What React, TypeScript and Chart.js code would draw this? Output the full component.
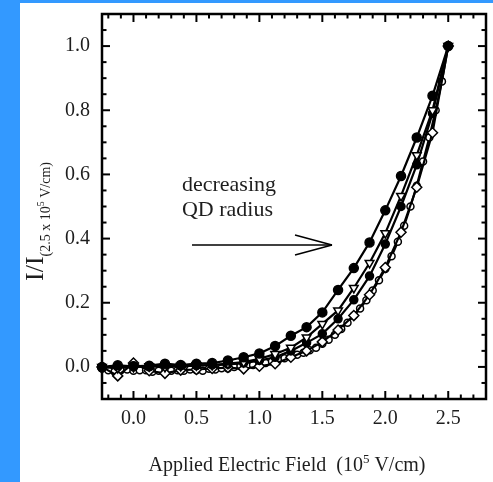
import React, { useEffect, useRef } from "react";
import { Chart, registerables } from "chart.js";
Chart.register(...registerables);

// ---------- data ----------
const xCoarse = [-0.25, -0.125, 0, 0.125, 0.25, 0.375, 0.5, 0.625, 0.75, 0.875, 1.0, 1.125, 1.25, 1.375, 1.5, 1.625, 1.75, 1.875, 2.0, 2.125, 2.25, 2.375, 2.5];
const seriesFilledA = [0.0, 0.005, 0.002, 0.004, 0.01, 0.006, 0.01, 0.012, 0.02, 0.03, 0.042, 0.065, 0.097, 0.124, 0.17, 0.24, 0.308, 0.388, 0.488, 0.595, 0.715, 0.845, 1.0];
const seriesTriangle = [0.0, -0.003, 0.0, 0.002, 0.0, 0.003, 0.005, 0.006, 0.01, 0.015, 0.025, 0.04, 0.06, 0.092, 0.134, 0.176, 0.246, 0.324, 0.417, 0.533, 0.66, 0.8, 1.0];
const seriesFilledB = [-0.003, 0.0, 0.003, 0.0, 0.005, 0.003, 0.004, 0.006, 0.008, 0.012, 0.02, 0.03, 0.05, 0.075, 0.103, 0.15, 0.209, 0.283, 0.383, 0.5, 0.63, 0.79, 1.0];
const seriesDiamond = [0.0, -0.028, 0.012, -0.012, -0.02, -0.01, -0.008, -0.005, -0.002, -0.006, 0.002, 0.01, 0.03, 0.05, 0.078, 0.115, 0.16, 0.225, 0.31, 0.42, 0.56, 0.73, 1.0];

const xFine = [-0.25, -0.2, -0.15, -0.1, -0.05, 0.0, 0.05, 0.1, 0.15, 0.2, 0.25, 0.3, 0.35, 0.4, 0.45, 0.5, 0.55, 0.6, 0.65, 0.7, 0.75, 0.8, 0.85, 0.9, 0.95, 1.0, 1.05, 1.1, 1.15, 1.2, 1.25, 1.3, 1.35, 1.4, 1.45, 1.5, 1.55, 1.6, 1.65, 1.7, 1.75, 1.8, 1.85, 1.9, 1.95, 2.0, 2.05, 2.1, 2.15, 2.2, 2.25, 2.3, 2.35, 2.4, 2.45, 2.5];
const seriesOpenCircle = [-0.005, -0.01, -0.015, -0.01, -0.008, -0.012, -0.01, -0.01, -0.015, -0.012, -0.018, -0.012, -0.01, -0.012, -0.008, -0.01, -0.012, -0.006, -0.008, -0.004, -0.005, 0.0, 0.002, 0.004, 0.006, 0.008, 0.012, 0.018, 0.022, 0.027, 0.032, 0.038, 0.044, 0.052, 0.06, 0.072, 0.085, 0.1, 0.118, 0.138, 0.16, 0.182, 0.208, 0.238, 0.27, 0.305, 0.345, 0.39, 0.44, 0.5, 0.565, 0.64, 0.715, 0.8, 0.89, 1.0];

const xTickValues = [0, 0.5, 1.0, 1.5, 2.0, 2.5];
const xTickLabels = ["0.0", "0.5", "1.0", "1.5", "2.0", "2.5"];
const yTickValues = [0, 0.2, 0.4, 0.6, 0.8, 1.0];
const yTickLabels = ["0.0", "0.2", "0.4", "0.6", "0.8", "1.0"];

const annotationLines = ["decreasing", "QD radius"];

// ---------- styles ----------
const SERIF = "'Liberation Serif', 'Times New Roman', serif";
const TEXT = "#1e1e1e";
const BLUE = "#3399ff";

const pts = (xs: number[], ys: number[]) => xs.map((x, i) => ({ x, y: ys[i] }));

const framePlugin = {
  id: "framePlugin",
  afterDraw(chart: any) {
    const { ctx, chartArea: a, scales } = chart;
    const xs = scales.x;
    const ys = scales.y;
    ctx.save();
    ctx.strokeStyle = "#000";
    ctx.lineCap = "butt";
    const seg = (x1: number, y1: number, x2: number, y2: number) => {
      ctx.beginPath();
      ctx.moveTo(x1, y1);
      ctx.lineTo(x2, y2);
      ctx.stroke();
    };
    ctx.lineWidth = 2;
    for (let i = -2; i <= 28; i++) {
      const px = xs.getPixelForValue(i / 10);
      const len = i % 5 === 0 ? 8 : 4.5;
      seg(px, a.bottom, px, a.bottom - len);
      seg(px, a.top, px, a.top + len);
    }
    for (let i = -2; i <= 22; i++) {
      const py = ys.getPixelForValue(i * 0.05);
      const len = i % 4 === 0 ? 8 : 4.5;
      seg(a.left, py, a.left + len, py);
      seg(a.right, py, a.right - len, py);
    }
    ctx.lineWidth = 2.5;
    ctx.strokeRect(a.left, a.top, a.right - a.left, a.bottom - a.top);

    // x axis title with superscript
    ctx.fillStyle = TEXT;
    ctx.textBaseline = "alphabetic";
    ctx.textAlign = "left";
    const t1 = "Applied Electric Field  (10";
    const t2 = "5";
    const t3 = " V/cm)";
    ctx.font = `20px ${SERIF}`;
    const w1 = ctx.measureText(t1).width;
    const w3 = ctx.measureText(t3).width;
    ctx.font = `13px ${SERIF}`;
    const w2 = ctx.measureText(t2).width;
    const total = w1 + w2 + w3;
    const cx = 267;
    const by = 468;
    let sx = cx - total / 2;
    ctx.font = `20px ${SERIF}`;
    ctx.fillText(t1, sx, by);
    sx += w1;
    ctx.font = `13px ${SERIF}`;
    ctx.fillText(t2, sx, by - 8);
    sx += w2;
    ctx.font = `20px ${SERIF}`;
    ctx.fillText(t3, sx, by);

    // y axis title, rotated, with subscript
    ctx.save();
    ctx.translate(23, 278);
    ctx.rotate(-Math.PI / 2);
    ctx.font = `26px ${SERIF}`;
    ctx.fillText("I/I", 0, 0);
    let rx = ctx.measureText("I/I").width;
    ctx.font = `14px ${SERIF}`;
    ctx.fillText("(2.5 x 10", rx, 7);
    rx += ctx.measureText("(2.5 x 10").width;
    ctx.font = `10px ${SERIF}`;
    ctx.fillText("5", rx, 1);
    rx += ctx.measureText("5").width;
    ctx.font = `14px ${SERIF}`;
    ctx.fillText(" V/cm)", rx, 7);
    ctx.restore();

    // annotation
    ctx.font = `22px ${SERIF}`;
    ctx.textBaseline = "middle";
    const tx = xs.getPixelForValue(0.385);
    ctx.fillText(annotationLines[0], tx, ys.getPixelForValue(0.567));
    ctx.fillText(annotationLines[1], tx, ys.getPixelForValue(0.489));
    ctx.lineWidth = 1.5;
    const ay = ys.getPixelForValue(0.38);
    const ax0 = xs.getPixelForValue(0.465);
    const ax1 = xs.getPixelForValue(1.577);
    const ahx = xs.getPixelForValue(1.283);
    seg(ax0, ay, ax1, ay);
    seg(ahx, ay - 10, ax1, ay);
    seg(ahx, ay + 10, ax1, ay);
    ctx.restore();
  },
};

export default function App() {
  const ref = useRef<HTMLCanvasElement | null>(null);
  useEffect(() => {
    if (!ref.current) return;
    const common = {
      borderColor: "#000",
      borderWidth: 2.2,
      pointBorderColor: "#000",
      pointBorderWidth: 1.5,
      tension: 0,
      clip: false as any,
    };
    const chart = new Chart(ref.current, {
      type: "line",
      data: {
        datasets: [
          { ...common, label: "A", data: pts(xCoarse, seriesFilledA), pointStyle: "circle", pointRadius: 4.5, pointBackgroundColor: "#000" },
          { ...common, label: "B", data: pts(xCoarse, seriesTriangle), pointStyle: "triangle", pointRotation: 180, pointRadius: 5, pointBackgroundColor: "#fff" },
          { ...common, label: "C", data: pts(xCoarse, seriesFilledB), pointStyle: "circle", pointRadius: 4, pointBackgroundColor: "#000" },
          { ...common, label: "D", data: pts(xCoarse, seriesDiamond), pointStyle: "rectRot", pointRadius: 5, pointBackgroundColor: "#fff" },
          { ...common, label: "E", data: pts(xFine, seriesOpenCircle), pointStyle: "circle", pointRadius: 3.5, pointBackgroundColor: "#fff" },
        ] as any,
      },
      options: {
        animation: false,
        responsive: false,
        devicePixelRatio: 1,
        layout: { padding: { top: 11, right: 7, left: 0, bottom: 0 } },
        plugins: { legend: { display: false }, tooltip: { enabled: false } },
        scales: {
          x: {
            type: "linear",
            min: -0.25,
            max: 2.8,
            grid: { display: false, drawTicks: false },
            border: { display: false },
            afterFit: (s: any) => { s.height = 83; s.paddingLeft = 0; s.paddingRight = 0; },
            afterBuildTicks: (s: any) => { s.ticks = xTickValues.map((v) => ({ value: v })); },
            ticks: {
              padding: 8,
              color: TEXT,
              font: { family: SERIF, size: 20 },
              maxRotation: 0,
              callback: (v: any) => { const i = xTickValues.findIndex((t) => Math.abs(t - v) < 1e-6); return i >= 0 ? xTickLabels[i] : ""; },
            },
          },
          y: {
            type: "linear",
            min: -0.1,
            max: 1.1,
            grid: { display: false, drawTicks: false },
            border: { display: false },
            afterFit: (s: any) => { s.width = 82; s.paddingTop = 0; s.paddingBottom = 0; },
            afterBuildTicks: (s: any) => { s.ticks = yTickValues.map((v) => ({ value: v })); },
            ticks: {
              padding: 12,
              color: TEXT,
              font: { family: SERIF, size: 20 },
              callback: (v: any) => { const i = yTickValues.findIndex((t) => Math.abs(t - v) < 1e-6); return i >= 0 ? yTickLabels[i] : ""; },
            },
          },
        },
      },
      plugins: [framePlugin],
    });
    return () => chart.destroy();
  }, []);

  return (
    <div
      style={{
        position: "fixed",
        left: 0,
        top: 0,
        width: 493,
        height: 482,
        boxSizing: "border-box",
        background: "#fff",
        borderLeft: `20px solid ${BLUE}`,
        borderTop: `3px solid ${BLUE}`,
      }}
    >
      <canvas ref={ref} width={473} height={479} style={{ display: "block", width: 473, height: 479 }} />
    </div>
  );
}
